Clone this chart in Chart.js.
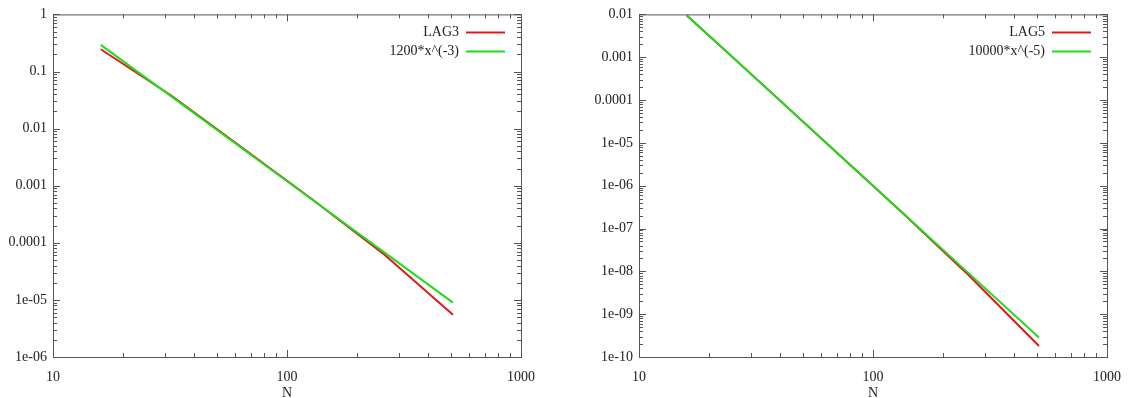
<!DOCTYPE html>
<html>
<head>
<meta charset="utf-8">
<script src="https://cdn.jsdelivr.net/npm/chart.js@4/dist/chart.umd.min.js"></script>
<style>
  body { margin: 0; background: #fff; }
  #wrap { position: relative; width: 1129px; height: 398px; }
  .box { position: absolute; top: 0; height: 398px; }
</style>
</head>
<body>
<div id="wrap">
  <div class="box" style="left:0;width:564px"><canvas id="g1"></canvas></div>
  <div class="box" style="left:564px;width:565px"><canvas id="g2"></canvas></div>
</div>
<script>
// datos
var N = [16, 32, 64, 128, 256, 512];
var lag3 = [0.245, 0.038, 0.0047, 0.00058, 0.000066, 0.0000055];
var fit3 = [0.293, 0.0366, 0.00458, 0.000572, 0.0000715, 0.00000894];
var lag5 = [0.0094, 0.0003, 0.0000093, 0.00000029, 0.0000000082, 0.00000000018];
var fit5 = [0.00954, 0.000298, 0.00000931, 0.000000291, 0.00000000909, 0.000000000284];

var xTicks = [10, 100, 1000];
var xLabels = ['10', '100', '1000'];
var yTicks1 = [1, 0.1, 0.01, 0.001, 0.0001, 1e-5, 1e-6];
var yLabels1 = ['1', '0.1', '0.01', '0.001', '0.0001', '1e-05', '1e-06'];
var yTicks2 = [0.01, 0.001, 0.0001, 1e-5, 1e-6, 1e-7, 1e-8, 1e-9, 1e-10];
var yLabels2 = ['0.01', '0.001', '0.0001', '1e-05', '1e-06', '1e-07', '1e-08', '1e-09', '1e-10'];

var fuente = { family: "'Liberation Serif', 'DejaVu Serif', serif", size: 14 };
var ROJO = '#e01818';
var VERDE = '#1fdc1f';

// marco tipo gnuplot: borde, ticks hacia dentro y leyenda arriba a la derecha
var marco = {
  id: 'marco',
  afterDatasetsDraw: function(chart) {
    var ctx = chart.ctx;
    var a = chart.chartArea;
    var sx = chart.scales.x, sy = chart.scales.y;
    ctx.save();
    ctx.strokeStyle = '#555';
    ctx.lineWidth = 1;
    ctx.strokeRect(a.left + 0.5, a.top + 0.5, a.right - a.left, a.bottom - a.top);
    ctx.beginPath();
    var e, k, v, p, len;
    for (e = Math.floor(Math.log10(sx.min)); e < Math.log10(sx.max) + 1; e++) {
      for (k = 1; k <= 9; k++) {
        v = k * Math.pow(10, e);
        if (v < sx.min * 0.999 || v > sx.max * 1.001) continue;
        p = Math.round(sx.getPixelForValue(v)) + 0.5;
        len = k == 1 ? 7 : 4;
        ctx.moveTo(p, a.bottom); ctx.lineTo(p, a.bottom - len);
        ctx.moveTo(p, a.top); ctx.lineTo(p, a.top + len);
      }
    }
    for (e = Math.floor(Math.log10(sy.min)); e < Math.log10(sy.max) + 1; e++) {
      for (k = 1; k <= 9; k++) {
        v = k * Math.pow(10, e);
        if (v < sy.min * 0.999 || v > sy.max * 1.001) continue;
        p = Math.round(sy.getPixelForValue(v)) + 0.5;
        len = k == 1 ? 7 : 4;
        ctx.moveTo(a.left, p); ctx.lineTo(a.left + len, p);
        ctx.moveTo(a.right, p); ctx.lineTo(a.right - len, p);
      }
    }
    ctx.stroke();

    // leyenda
    ctx.font = fuente.size + 'px ' + fuente.family;
    ctx.textAlign = 'right';
    ctx.textBaseline = 'middle';
    chart.data.datasets.forEach(function(ds, i) {
      var y = a.top + 18 + i * 19;
      ctx.fillStyle = '#222';
      ctx.fillText(ds.label, a.right - 62, y);
      ctx.strokeStyle = ds.borderColor;
      ctx.lineWidth = 2;
      ctx.beginPath();
      ctx.moveTo(a.right - 55, y);
      ctx.lineTo(a.right - 16, y);
      ctx.stroke();
    });
    ctx.restore();
  }
};

function puntos(ys) {
  var out = [];
  for (var i in N) out.push({ x: N[i], y: ys[i] });
  return out;
}

function grafico(id, nombres, series, yTicks, yLabels, anchoIzq, padDer) {
  var ctx = document.getElementById(id);
  return new Chart(ctx, {
    type: 'line',
    data: {
      datasets: [
        { label: nombres[0], data: puntos(series[0]), borderColor: ROJO, borderWidth: 2, pointRadius: 0, fill: false, order: 1 },
        { label: nombres[1], data: puntos(series[1]), borderColor: VERDE, borderWidth: 2, pointRadius: 0, fill: false, order: 0 }
      ]
    },
    options: {
      responsive: true,
      maintainAspectRatio: false,
      animation: false,
      layout: { padding: { top: 14, right: padDer, left: 0, bottom: 0 } },
      plugins: { legend: { display: false }, tooltip: { enabled: false } },
      scales: {
        x: {
          type: 'logarithmic',
          min: 10, max: 1000,
          grid: { display: false, drawTicks: false },
          border: { display: false },
          afterBuildTicks: function(s) { s.ticks = xTicks.map(function(v) { return { value: v }; }); },
          afterFit: function(s) { s.height = 41; s.paddingLeft = 0; s.paddingRight = 0; },
          ticks: {
            font: fuente, color: '#222', padding: 12, maxRotation: 0, autoSkip: false,
            callback: function(v) { return xLabels[xTicks.indexOf(v)]; }
          },
          title: { display: true, text: 'N', font: fuente, color: '#222', padding: { top: 0, bottom: -4 } }
        },
        y: {
          type: 'logarithmic',
          min: yTicks[yTicks.length - 1], max: yTicks[0],
          grid: { display: false, drawTicks: false },
          border: { display: false },
          afterBuildTicks: function(s) { s.ticks = yTicks.slice().reverse().map(function(v) { return { value: v }; }); },
          afterFit: function(s) { s.width = anchoIzq; },
          ticks: {
            font: fuente, color: '#222', padding: 6, autoSkip: false,
            callback: function(v) { return yLabels[yTicks.indexOf(v)]; }
          }
        }
      }
    },
    plugins: [marco]
  });
}

grafico('g1', ['LAG3', '1200*x^(-3)'], [lag3, fit3], yTicks1, yLabels1, 53, 43);
grafico('g2', ['LAG5', '10000*x^(-5)'], [lag5, fit5], yTicks2, yLabels2, 75, 22);
</script>
</body>
</html>
